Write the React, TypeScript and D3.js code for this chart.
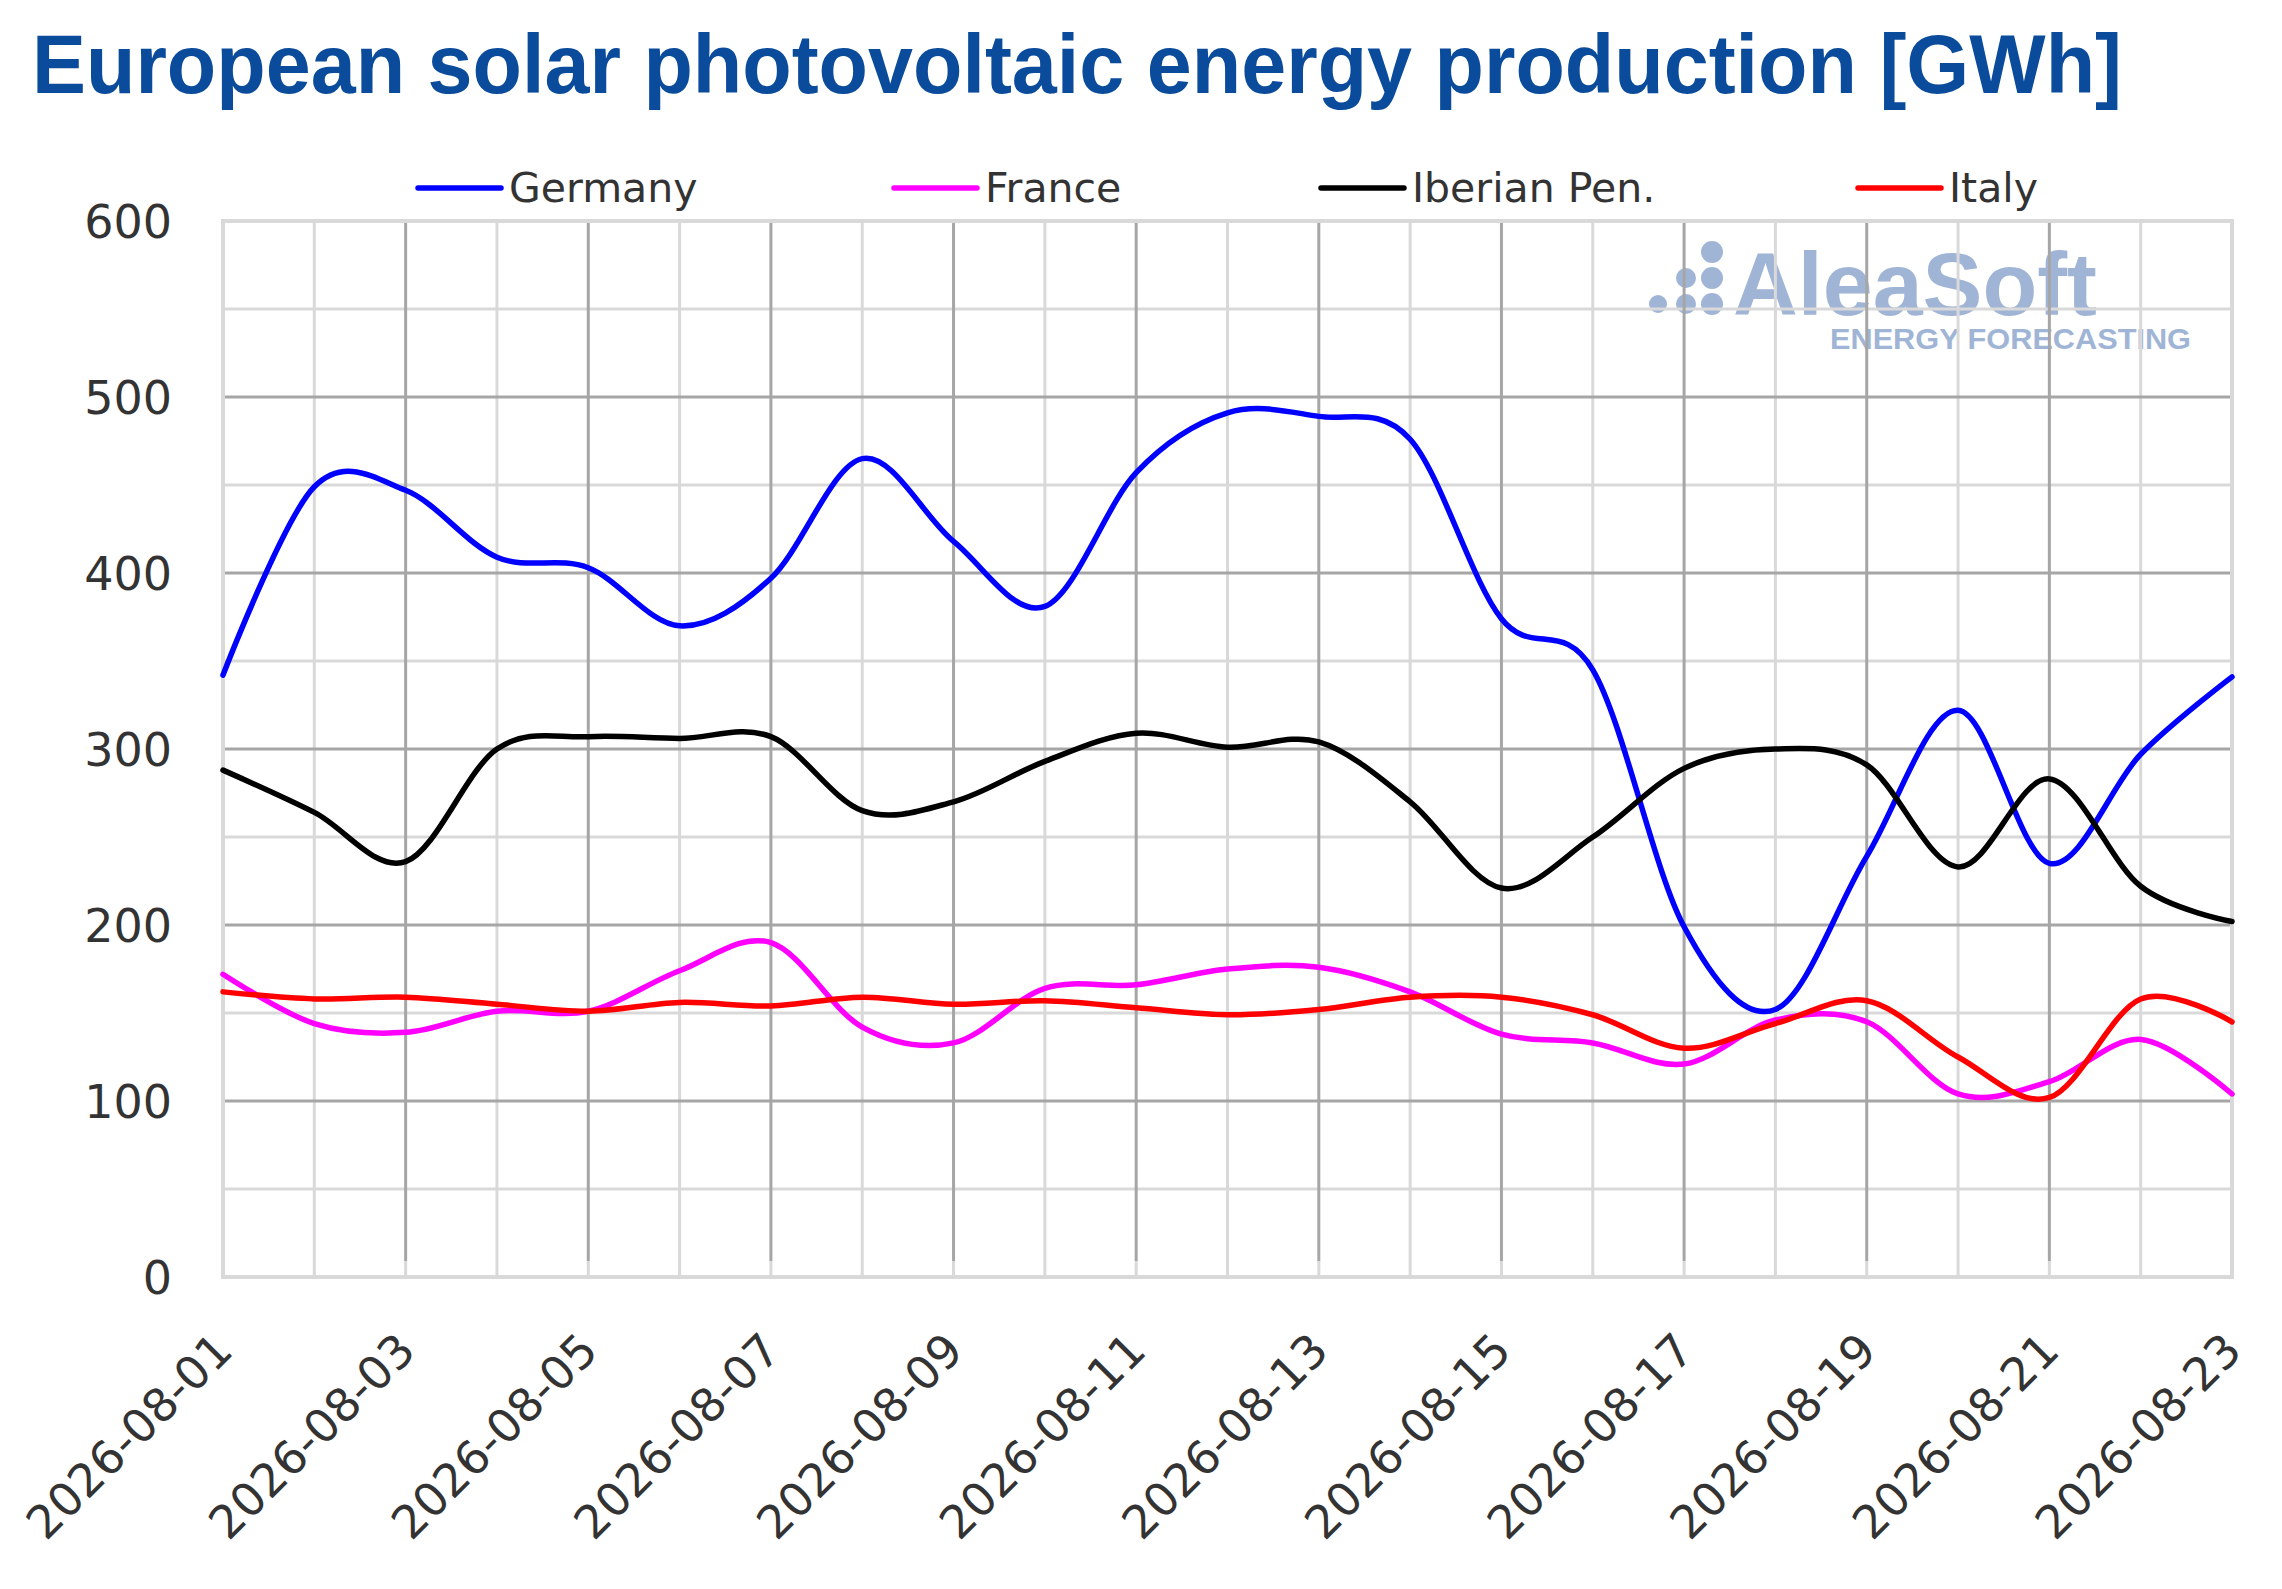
import * as d3 from "d3";

const dates = [
  "2026-08-01", "2026-08-02", "2026-08-03", "2026-08-04", "2026-08-05", "2026-08-06",
  "2026-08-07", "2026-08-08", "2026-08-09", "2026-08-10", "2026-08-11", "2026-08-12",
  "2026-08-13", "2026-08-14", "2026-08-15", "2026-08-16", "2026-08-17", "2026-08-18",
  "2026-08-19", "2026-08-20", "2026-08-21", "2026-08-22", "2026-08-23",
];

const germany = [342, 449, 447, 409, 403, 370, 397, 465, 418, 381, 457, 491, 489, 476, 374, 345, 199, 152, 239, 322, 235, 297, 341];
const france = [172, 144, 139, 151, 151, 174, 190, 142, 133, 164, 166, 175, 176, 162, 138, 133, 121, 146, 145, 104, 111, 135, 104];
const iberian = [288, 264, 236, 300, 307, 306, 307, 265, 270, 293, 309, 301, 304, 270, 221, 250, 289, 300, 291, 233, 283, 222, 202];
const italy = [162, 158, 159, 155, 151, 156, 154, 159, 155, 157, 153, 149, 152, 159, 159, 149, 130, 144, 157, 125, 102, 158, 145];

const yTicks = [0, 100, 200, 300, 400, 500, 600];

const series = [
  { name: "Germany", color: "#0000ff", values: germany },
  { name: "France", color: "#ff00ff", values: france },
  { name: "Iberian Pen.", color: "#000000", values: iberian },
  { name: "Italy", color: "#ff0000", values: italy },
];

const legendX = [418, 894, 1321, 1858];

const W = 2282;
const H = 1589;
const plot = { left: 223, right: 2232, top: 221, bottom: 1277 };

export default function App() {
  const x = d3.scaleLinear().domain([0, dates.length - 1]).range([plot.left, plot.right]);
  const y = d3.scaleLinear().domain([0, 600]).range([plot.bottom, plot.top]);

  const line = d3
    .line<number>()
    .x((_, i) => x(i))
    .y((d) => y(d))
    .curve(d3.curveCatmullRom.alpha(0));

  const minorY = d3.range(50, 600, 100);
  const majorY = d3.range(100, 600, 100);
  const minorX = dates.map((_, i) => i).filter((i) => i % 2 === 1);
  const majorX = dates.map((_, i) => i).filter((i) => i % 2 === 0 && i > 0 && i < dates.length - 1);

  const light = "#d9d9d9";
  const dark = "#a6a6a6";
  const axisFont = "'DejaVu Sans', sans-serif";

  return (
    <svg width={W} height={H} style={{ position: "absolute", left: 0, top: 0, background: "#fff" }}>
      <rect width={W} height={H} fill="#fff" />

      {/* title */}
      <text
        x={32}
        y={93}
        fill="#0a4b9c"
        fontFamily="'Liberation Sans', Arial, sans-serif"
        fontWeight="bold"
        fontSize={84}
        textLength={2090}
        lengthAdjust="spacingAndGlyphs"
      >
        European solar photovoltaic energy production [GWh]
      </text>

      {/* watermark */}
      <g fill="#a0b5d6">
        <circle cx={1712} cy={252} r={11} />
        <circle cx={1686} cy={278} r={10} />
        <circle cx={1712} cy={278} r={11} />
        <circle cx={1658} cy={304} r={9} />
        <circle cx={1686} cy={304} r={10} />
        <circle cx={1712} cy={304} r={11} />
        <text x={1733} y={315} fontFamily="'Liberation Sans', Arial, sans-serif" fontWeight="bold" fontSize={89} textLength={364} lengthAdjust="spacingAndGlyphs">
          AleaSoft
        </text>
        <text x={1830} y={349} fontFamily="'Liberation Sans', Arial, sans-serif" fontWeight="bold" fontSize={30} textLength={361} lengthAdjust="spacingAndGlyphs">
          ENERGY FORECASTING
        </text>
      </g>

      {/* grid */}
      <g strokeWidth={3}>
        {minorY.map((v) => (
          <line key={"my" + v} x1={plot.left} x2={plot.right} y1={y(v)} y2={y(v)} stroke={light} />
        ))}
        {minorX.map((i) => (
          <line key={"mx" + i} x1={x(i)} x2={x(i)} y1={plot.top} y2={plot.bottom} stroke={light} />
        ))}
        {majorY.map((v) => (
          <line key={"My" + v} x1={plot.left} x2={plot.right} y1={y(v)} y2={y(v)} stroke={dark} />
        ))}
        {majorX.map((i) => (
          <line key={"Mx" + i} x1={x(i)} x2={x(i)} y1={plot.top} y2={plot.bottom - 16} stroke={dark} />
        ))}
        {majorX.map((i) => (
          <line key={"Mt" + i} x1={x(i)} x2={x(i)} y1={plot.bottom - 16} y2={plot.bottom} stroke={light} />
        ))}
        <rect
          x={plot.left}
          y={plot.top}
          width={plot.right - plot.left}
          height={plot.bottom - plot.top}
          fill="none"
          stroke={light}
          strokeWidth={4}
        />
      </g>

      {/* y axis labels */}
      {yTicks.map((v) => (
        <text
          key={"yt" + v}
          x={172}
          y={y(v)}
          dy="0.36em"
          textAnchor="end"
          fontFamily={axisFont}
          fontSize={46}
          fill="#333"
        >
          {v}
        </text>
      ))}

      {/* x axis labels */}
      {dates.map((d, i) =>
        i % 2 === 0 ? (
          <text
            key={"xt" + d}
            transform={`translate(${x(i) + 12},${plot.bottom + 76}) rotate(-45)`}
            textAnchor="end"
            fontFamily={axisFont}
            fontSize={46}
            fill="#333"
          >
            {d}
          </text>
        ) : null
      )}

      {/* series */}
      {series.map((s) => (
        <path
          key={s.name}
          d={line(s.values) || ""}
          fill="none"
          stroke={s.color}
          strokeWidth={5.5}
          strokeLinejoin="round"
          strokeLinecap="round"
        />
      ))}

      {/* legend */}
      {series.map((s, i) => (
        <g key={"lg" + s.name}>
          <line x1={legendX[i]} x2={legendX[i] + 83} y1={188} y2={188} stroke={s.color} strokeWidth={5.5} strokeLinecap="round" />
          <text x={legendX[i] + 91} y={202} fontFamily={axisFont} fontSize={41} fill="#333">
            {s.name}
          </text>
        </g>
      ))}
    </svg>
  );
}
